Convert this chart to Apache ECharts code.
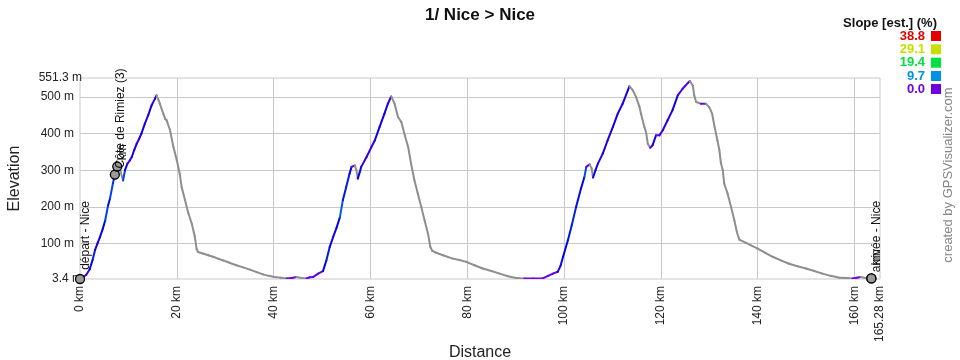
<!DOCTYPE html>
<html><head><meta charset="utf-8">
<script src="https://cdn.jsdelivr.net/npm/echarts@6/dist/echarts.min.js"></script>
<style>html,body{margin:0;padding:0;background:#fff}#c{width:960px;height:360px}</style>
</head><body><div id="c"></div>
<script>
// Track profile (km, m)
const distanceKm = [0,0.6,1.3,2.0,2.6,3.1,3.6,4.1,4.7,5.2,5.8,6.2,6.8,7.2,7.7,8.3,8.9,9.3,9.8,10.3,10.7,11.2,11.7,12.2,12.7,13.4,14.1,14.8,15.5,15.8,16.2,16.5,17.2,17.6,17.9,18.6,19.3,20.0,20.6,21.0,21.7,22.4,23.1,23.7,24.1,24.4,25.4,26.5,27.5,28.5,29.6,31.0,32.3,33.7,35.1,36.5,37.8,39.0,40.2,41.5,42.7,43.8,44.7,45.8,46.8,47.5,48.2,49.2,50.2,50.9,51.6,52.3,53.0,53.7,54.3,55.0,55.7,56.1,56.8,57.1,57.4,57.8,58.1,59.2,60.2,60.9,61.9,62.9,63.6,64.3,65.0,65.7,66.4,67.1,67.8,68.4,69.1,69.8,70.5,71.2,71.9,72.4,72.8,73.6,75.0,77.0,78.4,79.8,81.5,83.2,85.0,86.7,88.4,90.1,91.8,93.6,95.6,96.7,97.7,98.7,99.3,99.8,100.8,101.6,102.5,103.5,104.2,104.6,105.3,105.7,106.0,106.5,107.0,108.0,109.0,110.1,111.1,112.1,113.2,113.5,114.2,114.9,115.6,115.9,116.6,117.0,117.3,117.8,118.3,119.0,119.7,120.4,121.4,122.4,123.5,124.5,125.6,126.0,126.6,126.9,127.3,128.3,129.3,130.0,130.6,131.1,131.7,132.1,132.4,132.8,133.1,133.8,134.5,135.2,135.7,136.2,137.6,140.0,141.5,143.1,144.8,146.5,148.2,150.0,151.7,153.4,155.1,156.9,158.3,159.6,160.5,161.3,162.3,163.5];
const elevationM = [3.4,8,15,30,55,82,100,117,140,163,204,223,264,288,310,300,272,300,318,327,336,355,372,385,400,427,450,477,495,504,492,481,454,440,436,409,363,327,291,254,218,182,154,120,85,77,73,68,64,59,54,47,41,35,29,22,16,12,9,7,5,6,9,6,5,8,9,18,25,54,91,118,143,172,218,254,291,309,313,300,277,295,309,336,363,381,418,454,481,501,481,445,431,395,363,318,272,236,200,163,127,90,80,75,68,59,55,50,41,32,25,18,11,6,5,5,5,12,18,23,40,64,109,150,200,250,281,309,316,305,280,300,318,345,381,418,454,481,518,529,518,499,472,454,418,400,372,361,368,395,395,409,436,463,504,522,538,543,531,504,486,481,481,472,454,418,381,354,320,300,263,236,200,163,132,111,102,86,75,64,54,45,38,32,25,18,12,7,6,5,7,9,6,5];

// Waypoints
const wpNames = ['départ - Nice','Côte de Rimiez (3)','km','arrivée - Nice','km'];
const wpKm    = [0, 7.2, 7.7, 163.5, 163.5];
const wpEle   = [3.4, 288, 310, 5, 5];

// Axis ticks
const xTickKm = [0,20,40,60,80,100,120,140,160,165.28];
const xGridKm = [20,40,60,80,100,120,140,160];
const yTickM  = [3.4,100,200,300,400,500,551.3];
const yGridM  = [100,200,300,400,500];

// Slope legend
const slopeValues = [38.8,29.1,19.4,9.7,0.0];
const slopeColors = ['#e60000','#c8e000','#00e040','#0090e8','#7000e0'];

const FONT = 'Liberation Sans, Arial, Helvetica, sans-serif';

function hsvToRgb(h,s,v){
  h=((h%360)+360)%360;
  const c=v*s, x=c*(1-Math.abs((h/60)%2-1)), m=v-c;
  let r=0,g=0,b=0;
  if(h<60){r=c;g=x;}else if(h<120){r=x;g=c;}else if(h<180){g=c;b=x;}
  else if(h<240){g=x;b=c;}else if(h<300){r=x;b=c;}else{r=c;b=x;}
  return 'rgb('+Math.round((r+m)*255)+','+Math.round((g+m)*255)+','+Math.round((b+m)*255)+')';
}
function slopeColor(s){
  if (s < 0) return '#8e8e8e';
  const maxS = slopeValues[0];
  const t = Math.min(s, maxS)/maxS;
  return hsvToRgb(270*(1-t), 1, 0.9);
}

const segments = [];
for (let i=0;i<distanceKm.length-1;i++){
  const dk = distanceKm[i+1]-distanceKm[i];
  const slope = (elevationM[i+1]-elevationM[i])/(dk*1000)*100;
  segments.push([distanceKm[i],elevationM[i],distanceKm[i+1],elevationM[i+1],slope]);
}
const wpData = wpNames.map((n,i)=>[wpKm[i],wpEle[i],n]);
const wpOffsets = [[10.5,-4],[10.5,-1],[10.5,-1],[10.5,-1],[10.5,-8]];

const chart = echarts.init(document.getElementById('c'));
const graphics = [
  {type:'text', x:937, y:23, style:{text:'Slope [est.] (%)', font:'bold 13px '+FONT, fill:'#111', align:'right', verticalAlign:'middle'}},
  {type:'text', x:948, y:175, rotation:Math.PI/2, style:{text:'created by GPSVisualizer.com', font:'13px '+FONT, fill:'#888', align:'center', verticalAlign:'middle'}}
];
const legendY = [36,49.3,62.7,76,89];
slopeValues.forEach((v,i)=>{
  graphics.push({type:'text', x:925, y:legendY[i], style:{text:v.toFixed(1), font:'bold 13px '+FONT, fill:slopeColors[i], align:'right', verticalAlign:'middle'}});
  graphics.push({type:'rect', shape:{x:931,y:legendY[i]-5,width:10,height:10}, style:{fill:slopeColors[i]}});
});

chart.setOption({
  animation:false,
  backgroundColor:'#fff',
  textStyle:{fontFamily:FONT},
  title:{text:'1/ Nice > Nice', left:'center', top:2, textStyle:{fontSize:17, fontWeight:'bold', color:'#111', fontFamily:FONT}},
  grid:{left:80, right:80, top:78, bottom:81, containLabel:false, outerBoundsMode:'none',
    show:true, borderColor:'#c8c8c8', borderWidth:1, backgroundColor:'#fff'},
  xAxis:{type:'value', min:0, max:165.28,
    name:'Distance', nameLocation:'middle', nameGap:66, nameMoveOverlap:false, nameTextStyle:{fontSize:16, color:'#222'},
    axisLine:{show:false},
    axisTick:{show:false, customValues:xGridKm},
    axisLabel:{customValues:xTickKm, rotate:90, margin:7, fontSize:12, color:'#222', formatter:v=>v+' km'},
    splitLine:{show:true, lineStyle:{color:'#c8c8c8', width:1}}
  },
  yAxis:{type:'value', min:3.4, max:551.3,
    name:'Elevation', nameLocation:'middle', nameRotate:90, nameGap:57, nameMoveOverlap:false, nameTextStyle:{fontSize:16, color:'#222'},
    axisLine:{show:false},
    axisTick:{show:false, customValues:yGridM},
    axisLabel:{customValues:yTickM, margin:-2, fontSize:12, color:'#222',
      formatter:function(v){
        const isEnd = (v===yTickM[0] || v===yTickM[yTickM.length-1]);
        return (isEnd ? '{e|' : '{m|') + v + ' m}';
      },
      rich:{e:{fontSize:12, color:'#222'}, m:{fontSize:12, color:'#222', padding:[0,8,0,0]}}
    },
    splitLine:{show:true, lineStyle:{color:'#c8c8c8', width:1}}
  },
  graphic:graphics,
  series:[
    {type:'custom', data:segments, encode:{x:[0,2], y:[1,3]}, clip:true, silent:true,
      renderItem:function(params, api){
        const p0 = api.coord([api.value(0), api.value(1)]);
        const p1 = api.coord([api.value(2), api.value(3)]);
        return {type:'line', shape:{x1:p0[0],y1:p0[1],x2:p1[0],y2:p1[1]},
          style:{stroke:slopeColor(api.value(4)), lineWidth:2, lineCap:'round'}};
      }
    },
    {type:'scatter', data:wpData.map((d,i)=>({value:d, label:{position:wpOffsets[i]}})), symbol:'circle', symbolSize:9, z:5,
      itemStyle:{color:'#9a9a9a', borderColor:'#000', borderWidth:1.3, opacity:1},
      label:{show:true, rotate:90, align:'left', verticalAlign:'middle', fontSize:12, color:'#111',
        formatter:p=>p.data.value[2]}
    }
  ]
});
</script>
</body></html>
